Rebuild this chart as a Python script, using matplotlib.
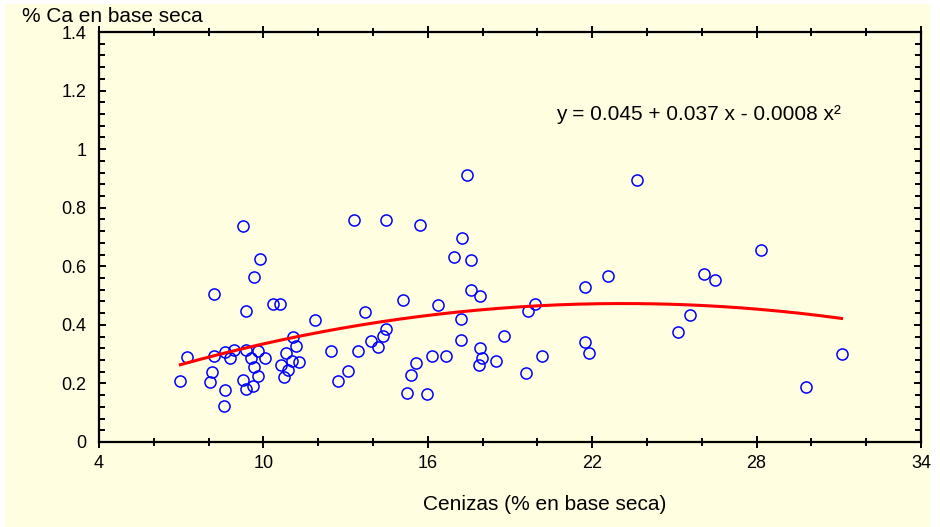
import numpy as np
import matplotlib
matplotlib.use('Agg')
import matplotlib.pyplot as plt
from matplotlib.patches import Rectangle
from matplotlib.ticker import MultipleLocator

plt.rcParams['font.family'] = ['Liberation Sans', 'DejaVu Sans']

# cenizas (% base seca) and % Ca (base seca)
cenizas = [6.97, 7.22, 8.19, 8.12, 8.05, 8.20, 8.61, 8.56, 8.61, 8.94, 8.77,
           9.27, 9.27, 9.35, 9.35, 9.38, 9.56, 9.61, 9.65, 9.67, 9.79, 9.82,
           9.89, 10.06, 10.35, 10.62, 10.64, 10.76, 10.84, 10.88, 11.05, 11.08,
           11.18, 11.30, 11.87, 12.45, 12.71, 13.10, 13.32, 13.45, 13.72, 13.91,
           14.18, 14.35, 14.49, 14.49, 15.11, 15.25, 15.37, 15.57, 15.70, 15.97,
           16.17, 16.37, 16.65, 16.96, 17.21, 17.21, 17.23, 17.42, 17.57, 17.59,
           17.87, 17.89, 17.92, 17.96, 18.49, 18.78, 19.58, 19.67, 19.90, 20.18,
           21.75, 21.75, 21.90, 22.58, 23.65, 25.14, 25.57, 26.09, 26.50, 28.15,
           29.79, 31.10]
calcio = [0.209, 0.291, 0.506, 0.239, 0.204, 0.295, 0.308, 0.123, 0.179, 0.313, 0.287,
          0.738, 0.211, 0.447, 0.181, 0.314, 0.287, 0.192, 0.255, 0.563, 0.310, 0.226,
          0.625, 0.288, 0.472, 0.472, 0.263, 0.223, 0.304, 0.247, 0.276, 0.358,
          0.329, 0.273, 0.416, 0.310, 0.209, 0.241, 0.759, 0.312, 0.444, 0.345,
          0.323, 0.362, 0.758, 0.386, 0.486, 0.168, 0.229, 0.269, 0.740, 0.163,
          0.295, 0.467, 0.295, 0.631, 0.420, 0.349, 0.698, 0.912, 0.620, 0.519,
          0.263, 0.321, 0.497, 0.288, 0.278, 0.361, 0.234, 0.448, 0.472, 0.295,
          0.529, 0.341, 0.303, 0.566, 0.894, 0.374, 0.435, 0.575, 0.553, 0.657,
          0.188, 0.301]

xticks = [4, 10, 16, 22, 28, 34]
yticks = [0, 0.2, 0.4, 0.6, 0.8, 1.0, 1.2, 1.4]
ylabels = ['0', '0.2', '0.4', '0.6', '0.8', '1', '1.2', '1.4']

# fitted polynomial shown on the chart
b0, b1, b2 = 0.045, 0.037, -0.0008

bg = '#FFFEE0'
fig = plt.figure(figsize=(9.4, 5.27), dpi=100, facecolor='white')
fig.patches.append(Rectangle((5 / 940, 0), 925 / 940, 523 / 527,
                             transform=fig.transFigure, facecolor=bg,
                             edgecolor='none', zorder=-10))
ax = fig.add_axes([99 / 940, 85 / 527, 822 / 940, 410 / 527])
ax.set_facecolor(bg)

ax.plot(cenizas, calcio, 'o', markersize=8, markerfacecolor='none',
        markeredgecolor='#0000FF', markeredgewidth=1.1, zorder=3)

xf = np.linspace(min(cenizas), max(cenizas), 200)
ax.plot(xf, b0 + b1 * xf + b2 * xf ** 2, color='#FF0000', lw=2.2, zorder=4)

ax.set_xlim(4, 34)
ax.set_ylim(0, 1.4)
ax.set_xticks(xticks)
ax.set_xticklabels([str(t) for t in xticks])
ax.xaxis.set_minor_locator(MultipleLocator(2))
ax.set_yticks(yticks)
ax.set_yticklabels(ylabels)
ax.yaxis.set_minor_locator(MultipleLocator(0.04))

for s in ax.spines.values():
    s.set_linewidth(1.6)

ax.tick_params(axis='both', which='both', labelsize=13, colors='black', width=1.4)
ax.tick_params(axis='x', which='major', direction='inout', length=8, top=True, pad=5)
ax.tick_params(axis='x', which='minor', direction='inout', length=6, top=True)
ax.tick_params(axis='y', which='major', direction='in', length=5, right=True, pad=9)
ax.tick_params(axis='y', which='minor', direction='in', length=4, right=True)

ax.text(20.68, 1.12, 'y = 0.045 + 0.037 x - 0.0008 x\u00b2', fontsize=15,
        va='center', ha='left')

fig.text(545 / 940, (527 - 505) / 527, 'Cenizas (% en base seca)', fontsize=15,
         ha='center', va='center')
fig.text(22 / 940, (527 - 16) / 527, '% Ca en base seca', fontsize=15,
         ha='left', va='center')

fig.savefig('out.png', dpi=100, facecolor='white')
